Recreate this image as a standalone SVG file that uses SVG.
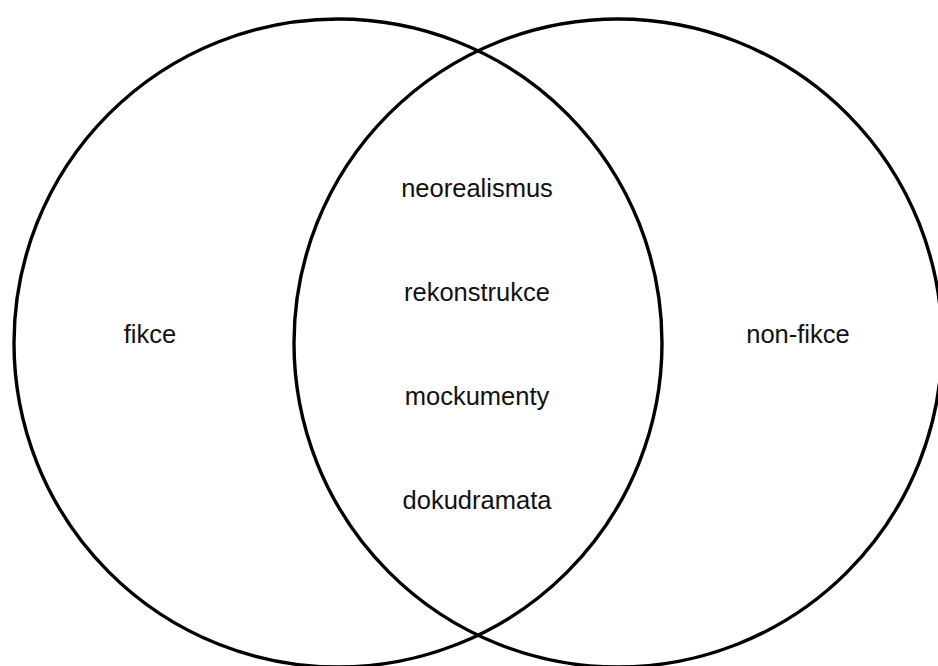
<svg xmlns="http://www.w3.org/2000/svg" width="938" height="666" viewBox="0 0 938 666">
<style>
.c{fill:none;stroke:#000;stroke-width:3.4}
.t{font-family:"Liberation Sans",Arial,sans-serif;font-size:25.5px;fill:#111;text-anchor:middle}
</style>
<rect width="938" height="666" fill="#fff"/>
<g id="fikce">
<circle class="c" cx="338" cy="343" r="324"/>
<text class="t" x="150" y="343">fikce</text>
</g>
<g id="non-fikce">
<circle class="c" cx="618" cy="343" r="324"/>
<text class="t" x="798" y="343">non-fikce</text>
</g>
<g id="prunik">
<text class="t" x="477" y="197">neorealismus</text>
<text class="t" x="477" y="301">rekonstrukce</text>
<text class="t" x="477" y="405">mockumenty</text>
<text class="t" x="477" y="509">dokudramata</text>
</g>
<g id="connectors"/>
</svg>
